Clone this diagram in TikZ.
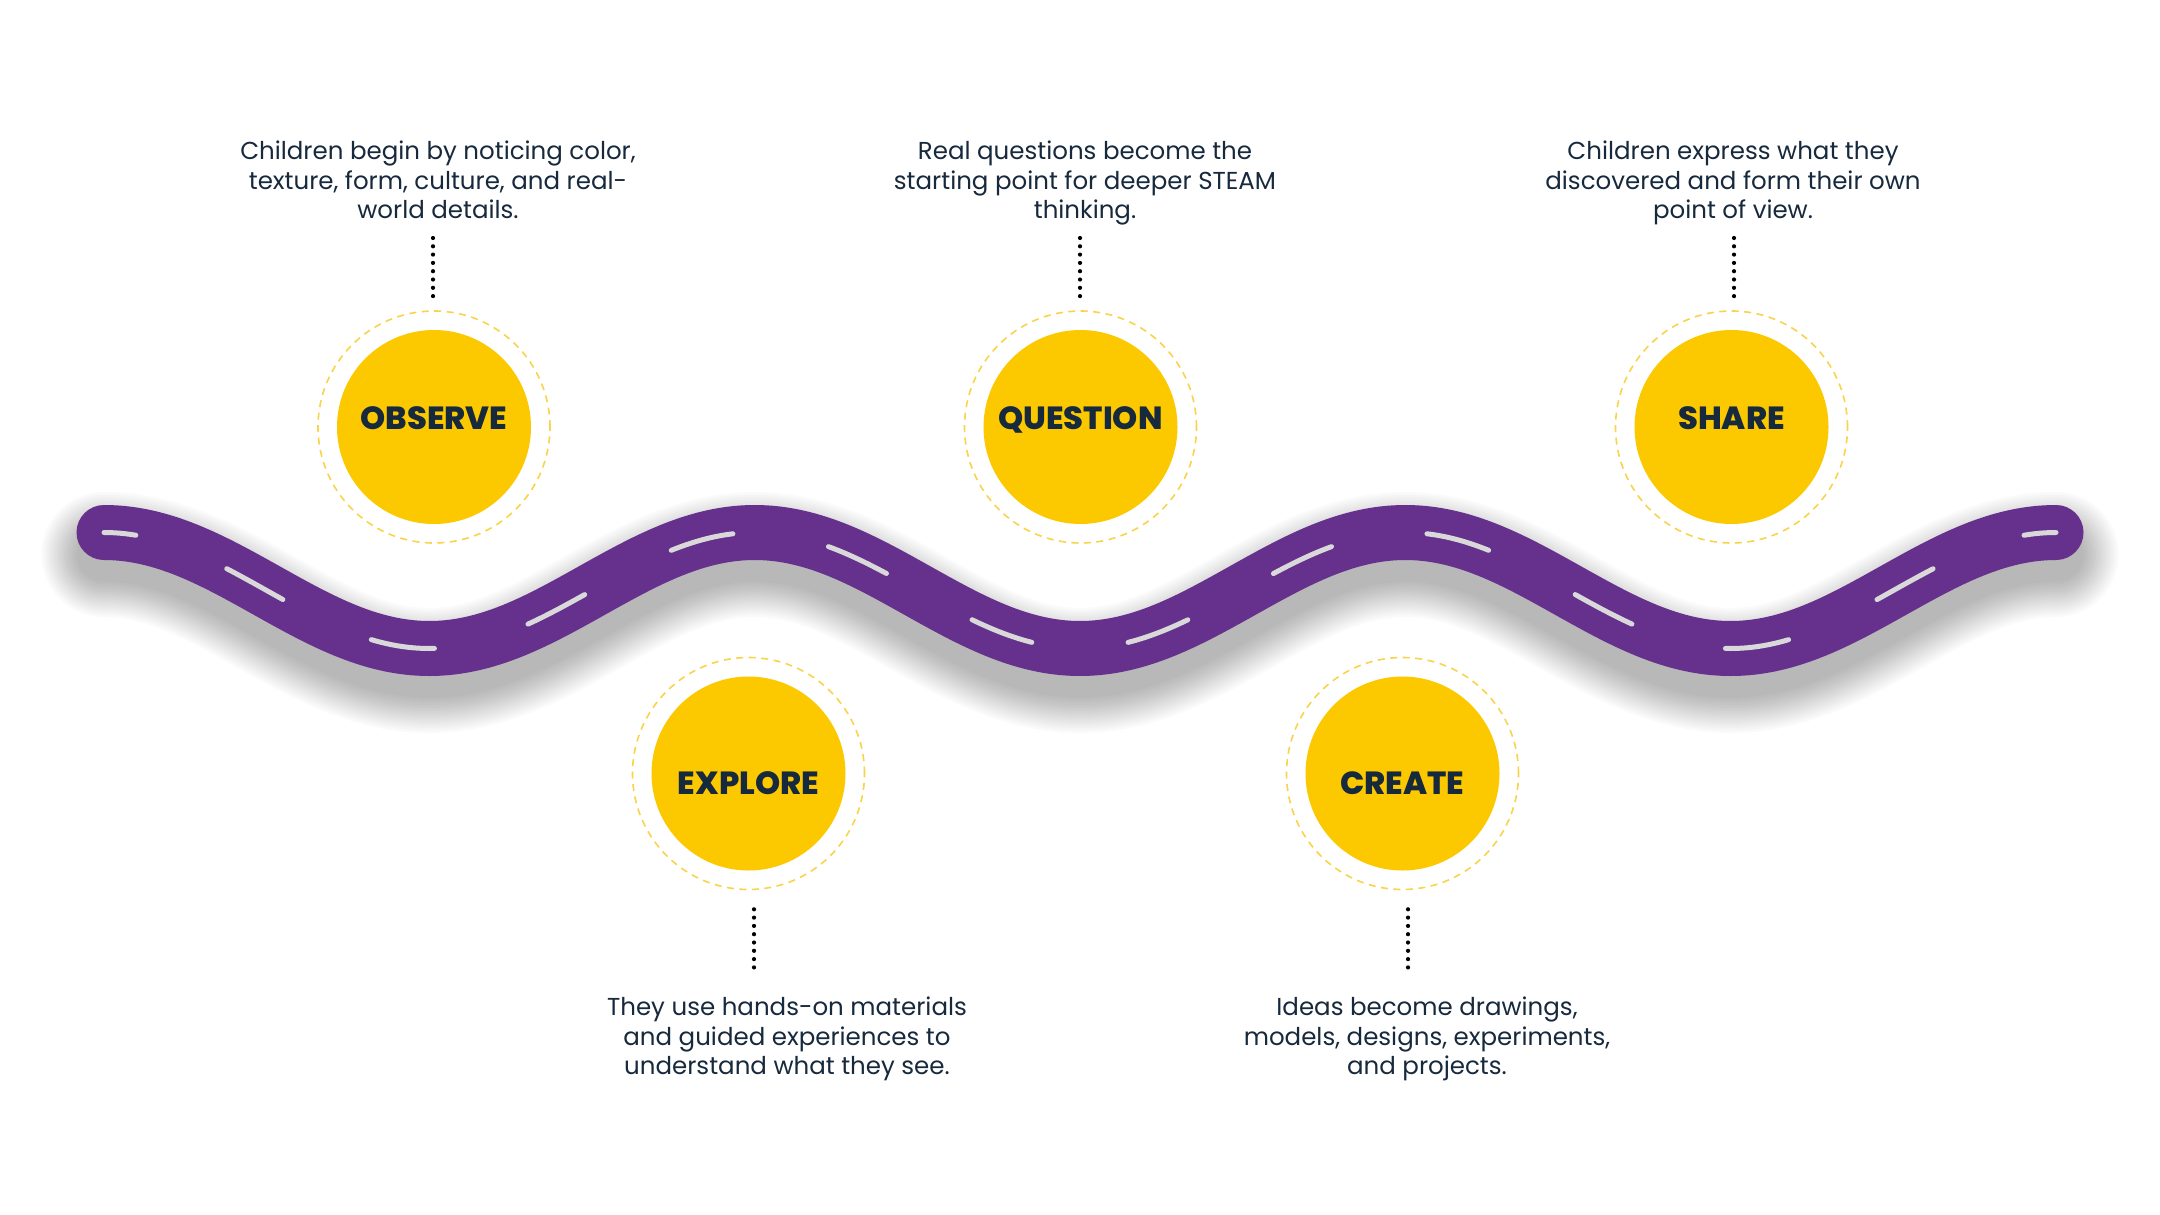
\documentclass[tikz,border=0pt]{standalone}
\usepackage{fontspec}
\setmainfont{Poppins}[BoldFont={Poppins ExtraBold}]
\usetikzlibrary{positioning}

\definecolor{roadpurple}{HTML}{66308D}
\definecolor{stepyellow}{HTML}{FCC900}
\definecolor{ringyellow}{HTML}{F9D34A}
\definecolor{inknavy}{HTML}{17293C}
\definecolor{lanegray}{HTML}{D9D9D9}

\tikzset{
  stepdisc/.style={circle, fill=stepyellow, minimum size=194pt, inner sep=0pt},
  stepring/.style={circle, draw=ringyellow, line width=1.6pt, dash pattern=on 7pt off 5.5pt, minimum size=232pt, inner sep=0pt},
  steplabel/.style={text=inknavy, inner sep=0pt, text depth=0pt, font=\fontsize{32}{32}\selectfont\bfseries},
  stepnote/.style={text=inknavy, align=center, inner sep=0pt, text depth=0pt, font=\fontsize{24.5}{29.5}\selectfont},
  dotline/.style={black, line width=4.2pt, line cap=round, dash pattern=on 0pt off 8.3pt},
  roadbase/.style={roadpurple, line width=55pt, line cap=round},
  lanedash/.style={lanegray, line width=5pt, line cap=round, dash pattern=on 64pt off 97.3pt, dash phase=32pt},
}

% wavy road, one quarter wave per segment
\newcommand{\roadpath}{(104,532.5) cos (266.7,590.5) sin (429.3,648.5) cos (592,590.5) sin (754.7,532.5) cos (917.3,590.5) sin (1080,648.5) cos (1242.7,590.5) sin (1405.3,532.5) cos (1568,590.5) sin (1730.7,648.5) cos (1893.3,590.5) sin (2056,532.5)}

\begin{document}
\begin{tikzpicture}[x=1pt, y=-1pt]
\fill[white] (0,0) rectangle (2160,1215);
\useasboundingbox (0,0) rectangle (2160,1215);

% soft shadow under the road
\foreach \k in {0,...,14}
  \draw[black, opacity=0.021, line width=55pt+5pt*\k, line cap=round, yshift=-22pt] \roadpath;

% road and lane marks
\draw[roadbase] \roadpath;
\draw[lanedash] \roadpath;

% steps above the road
\node[stepring] (obsRing) at (434,427) {};
\node[stepdisc] (obs) at (434,427) {};
\node[steplabel] (obsLbl) at (434,418) {OBSERVE};

\node[stepring] (queRing) at (1080.5,427) {};
\node[stepdisc] (que) at (1080.5,427) {};
\node[steplabel] (queLbl) at (1080.5,418) {QUESTION};

\node[stepring] (shaRing) at (1731.5,427) {};
\node[stepdisc] (sha) at (1731.5,427) {};
\node[steplabel] (shaLbl) at (1731.5,418) {SHARE};

% steps below the road
\node[stepring] (expRing) at (748.5,773.5) {};
\node[stepdisc] (exp) at (748.5,773.5) {};
\node[steplabel] (expLbl) at (748.5,783) {EXPLORE};

\node[stepring] (creRing) at (1402.5,773.5) {};
\node[stepdisc] (cre) at (1402.5,773.5) {};
\node[steplabel] (creLbl) at (1402.5,783) {CREATE};

% notes
\node[stepnote] (obsNote) at (438,180) {Children begin by noticing color,\\texture, form, culture, and real-\\world details.};
\node[stepnote] (queNote) at (1085,180) {Real questions become the\\starting point for deeper STEAM\\thinking.};
\node[stepnote] (shaNote) at (1733,180) {Children express what they\\discovered and form their own\\point of view.};
\node[stepnote] (expNote) at (787,1036) {They use hands-on materials\\and guided experiences to\\understand what they see.};
\node[stepnote] (creNote) at (1427,1036) {Ideas become drawings,\\models, designs, experiments,\\and projects.};

% dotted leaders
\coordinate (obsTop) at (433,238);
\coordinate (queTop) at (1080,238);
\coordinate (shaTop) at (1734,238);
\coordinate (expBot) at (754,973);
\coordinate (creBot) at (1408,973);
\draw[dotline, shorten >=6pt] (obsTop) -- (obsTop |- obsRing.north);
\draw[dotline, shorten >=6pt] (queTop) -- (queTop |- queRing.north);
\draw[dotline, shorten >=6pt] (shaTop) -- (shaTop |- shaRing.north);
\draw[dotline, shorten <=19pt] (expBot |- expRing.south) -- (expBot);
\draw[dotline, shorten <=19pt] (creBot |- creRing.south) -- (creBot);
\end{tikzpicture}
\end{document}
